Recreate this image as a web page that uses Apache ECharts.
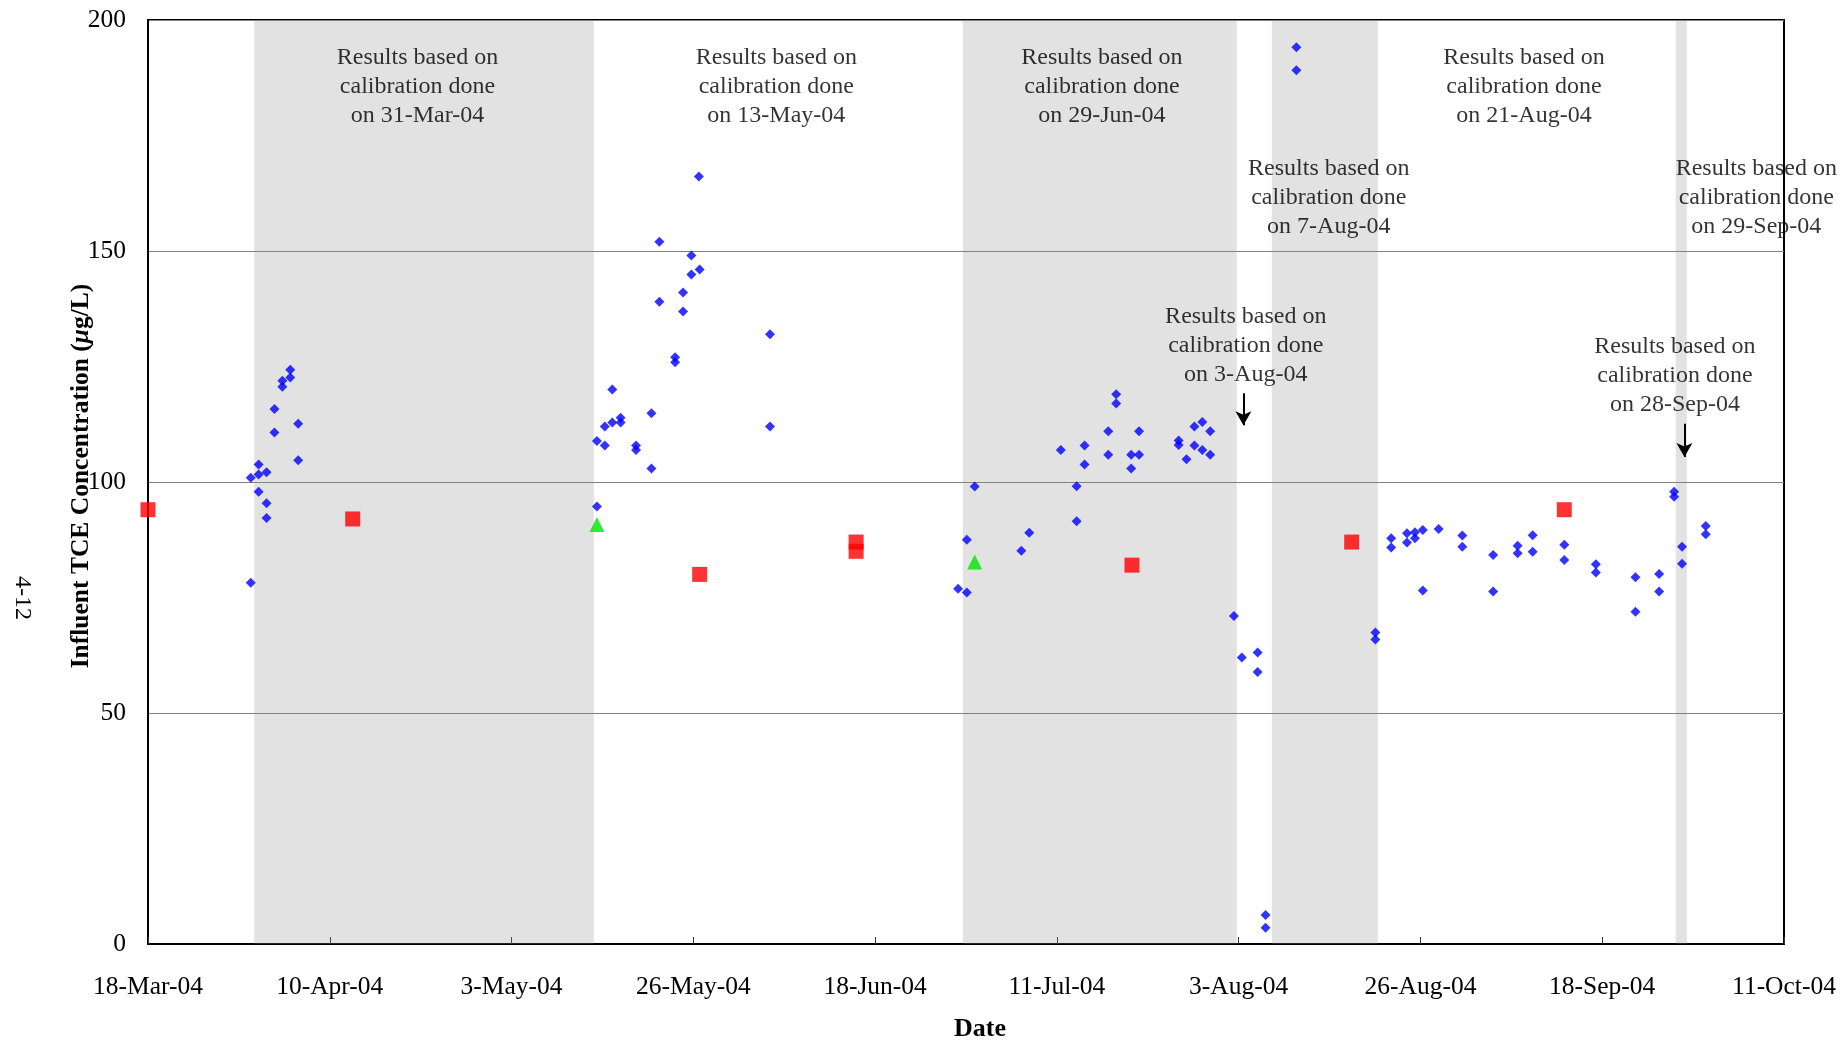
<!DOCTYPE html>
<html>
<head>
<meta charset="utf-8">
<title>Influent TCE Concentration</title>
<script src="https://cdn.jsdelivr.net/npm/echarts@6/dist/echarts.min.js"></script>
<style>
  html, body { margin: 0; padding: 0; background: #fff; }
  #chart { width: 1844px; height: 1040px; }
</style>
</head>
<body>
<div id="chart"></div>
<script>
// x values are days after 18-Mar-04
var START = Date.UTC(2004, 2, 18);
var MONTHS = ['Jan','Feb','Mar','Apr','May','Jun','Jul','Aug','Sep','Oct','Nov','Dec'];

var blueDiamonds = [
  [13.0,100.9],[13.0,78.2],[14.0,103.8],[14.0,101.6],[14.0,97.9],[15.0,102.1],[15.0,95.4],[15.0,92.2],
  [16.0,110.7],[16.0,115.8],[17.0,120.6],[17.0,121.9],[18.0,122.6],[18.0,124.3],[19.0,112.6],[19.0,104.7],
  [56.8,94.7],[56.8,108.9],[57.8,107.9],[57.8,112.0],[58.75,112.9],[58.75,120.0],[59.8,113.9],[59.8,112.9],
  [61.75,107.9],[61.75,106.9],[63.7,102.9],[63.7,114.9],[64.7,139.0],[64.7,152.0],[66.7,127.0],[66.7,125.9],
  [67.7,141.0],[67.7,136.9],[68.75,149.0],[68.75,144.9],[69.8,146.0],[69.7,166.1],[78.7,132.0],[78.7,112.0],
  [102.5,76.9],[103.6,76.1],[103.6,87.5],[104.6,99.0],[110.5,85.1],[111.5,89.0],[115.5,106.9],[117.5,99.1],
  [117.5,91.5],[118.5,107.9],[118.5,103.8],[121.5,111.0],[121.5,105.9],[122.5,119.0],[122.5,117.0],[124.4,105.9],
  [124.4,102.9],[125.4,111.0],[125.4,105.9],[130.4,109.0],[130.4,108.0],[131.4,104.9],[132.4,112.0],[132.4,107.9],
  [133.4,113.0],[133.4,106.9],[134.4,111.0],[134.4,105.9],[137.4,71.0],[138.4,62.0],[140.4,63.1],[140.4,58.9],
  [141.4,6.3],[141.4,3.5],[145.3,194.1],[145.3,189.1],[155.3,67.4],[155.3,65.9],[157.3,87.8],[157.3,85.8],
  [159.3,88.9],[159.3,86.9],[160.3,89.1],[160.3,87.8],[161.3,89.6],[161.3,76.5],[163.3,89.8],[166.3,88.4],
  [166.3,86.0],[170.2,84.2],[170.2,76.3],[173.3,86.2],[173.3,84.6],[175.2,88.5],[175.2,84.9],[179.2,86.4],
  [179.2,83.1],[183.2,82.2],[183.2,80.4],[188.2,79.4],[188.2,71.9],[191.2,80.1],[191.2,76.3],[193.1,97.9],
  [193.1,96.8],[194.1,86.0],[194.1,82.3],[197.1,90.5],[197.1,88.7]
];

var redSquares = [
  [0,94.0],[25.9,92.0],[69.8,80.0],[89.6,87.0],[89.6,85.0],[124.5,82.0],[152.3,87.0],[179.2,94.0]
];

var greenTriangles = [
  [56.8,90.8],[104.6,82.7]
];

// shaded calibration periods, [from day, to day]
var shadedPeriods = [
  [13.45,56.4],[103.1,137.75],[142.2,155.6],[193.3,194.7]
];

// annotation anchors: [day, value, calibration date]
var notes = [
  [34.1,185.5,'31-Mar-04'],
  [79.5,185.5,'13-May-04'],
  [120.7,185.5,'29-Jun-04'],
  [174.1,185.5,'21-Aug-04'],
  [149.4,161.6,'7-Aug-04'],
  [138.9,129.5,'3-Aug-04'],
  [193.2,123.0,'28-Sep-04'],
  [203.5,161.6,'29-Sep-04']
];

// arrows: [day, from value, to value]
var arrows = [
  [138.6,119.2,112.3],
  [194.4,112.6,105.4]
];

var yTicks = [0,50,100,150,200];

function dayLabel(d) {
  var t = new Date(START + d * 86400000);
  return t.getUTCDate() + '-' + MONTHS[t.getUTCMonth()] + '-04';
}

var FONT = '"Liberation Serif", "Times New Roman", serif';

var chart = echarts.init(document.getElementById('chart'));

var option = {
  backgroundColor: '#fff',
  animation: false,
  grid: {
    left: 148, right: 60, top: 20, bottom: 96,
    show: true, borderColor: '#000', borderWidth: 2,
    outerBoundsMode: 'none'
  },
  xAxis: {
    type: 'value',
    min: 0, max: 207, interval: 23,
    name: 'Date',
    nameLocation: 'middle',
    nameGap: 72,
    nameTextStyle: { fontFamily: FONT, fontSize: 26, fontWeight: 'bold', color: '#000', padding: [0, 0, 0, 28] },
    axisLine: { lineStyle: { color: '#000', width: 2 } },
    axisTick: { show: true, inside: true, length: 7, lineStyle: { color: '#333', width: 1 } },
    axisLabel: {
      fontFamily: FONT, fontSize: 25.5, color: '#000', margin: 30,
      showMinLabel: true, showMaxLabel: true,
      formatter: function (v) { return dayLabel(v); }
    },
    splitLine: { show: false }
  },
  yAxis: {
    type: 'value',
    min: yTicks[0], max: yTicks[yTicks.length - 1], interval: 50,
    name: 'Influent TCE Concentration ({it|μ}g/L)',
    nameLocation: 'middle',
    nameRotate: 90,
    nameGap: 54,
    nameMoveOverlap: false,
    nameTextStyle: {
      fontFamily: FONT, fontSize: 25.5, fontWeight: 'bold', color: '#000',
      padding: [0, 0, 0, 12],
      rich: { it: { fontFamily: FONT, fontSize: 25.5, fontWeight: 'bold', fontStyle: 'italic', color: '#000' } }
    },
    axisLine: { show: true, lineStyle: { color: '#000', width: 2 } },
    axisTick: { show: false },
    axisLabel: { fontFamily: FONT, fontSize: 25.5, color: '#000', margin: 22 },
    splitLine: { show: true, lineStyle: { color: '#808080', width: 1 } }
  },
  series: [
    {
      name: 'blue',
      type: 'scatter',
      z: 2,
      symbol: 'diamond',
      symbolSize: 10,
      itemStyle: { color: '#0000ff' },
      data: blueDiamonds
    },
    {
      name: 'red',
      type: 'scatter',
      z: 2,
      symbol: 'rect',
      symbolSize: 15,
      itemStyle: { color: '#ff0000' },
      data: redSquares
    },
    {
      name: 'green',
      type: 'scatter',
      z: 2,
      symbol: 'triangle',
      symbolSize: 15,
      itemStyle: { color: '#00e600' },
      data: greenTriangles
    },
    {
      name: 'shading',
      type: 'scatter',
      z: 5,
      silent: true,
      data: [],
      markArea: {
        silent: true,
        itemStyle: { color: 'rgba(139,139,139,0.25)' },
        data: shadedPeriods.map(function (p) {
          return [{ xAxis: p[0], yAxis: 0 }, { xAxis: p[1], yAxis: 200 }];
        })
      }
    },
    {
      name: 'notes',
      type: 'scatter',
      z: 6,
      silent: true,
      symbolSize: 0,
      data: notes.map(function (n) {
        return { value: [n[0], n[1]], name: 'Results based on\ncalibration done\non ' + n[2] };
      }),
      label: {
        show: true,
        position: 'inside',
        align: 'center',
        verticalAlign: 'middle',
        fontFamily: FONT,
        fontSize: 24,
        lineHeight: 29,
        color: '#000',
        formatter: function (p) { return p.name; }
      },
      markLine: {
        silent: true,
        symbol: ['none', 'arrow'],
        symbolSize: [12, 14],
        label: { show: false },
        lineStyle: { color: '#000', width: 2, type: 'solid' },
        data: arrows.map(function (a) {
          return [{ coord: [a[0], a[1]] }, { coord: [a[0], a[2]] }];
        })
      }
    }
  ],
  graphic: [
    {
      type: 'text',
      x: 22, y: 598,
      rotation: -Math.PI / 2,
      style: {
        text: '4-12',
        font: '24px "Liberation Serif", "Times New Roman", serif',
        fill: '#000',
        align: 'center',
        verticalAlign: 'middle'
      }
    }
  ]
};

chart.setOption(option);
</script>
</body>
</html>
